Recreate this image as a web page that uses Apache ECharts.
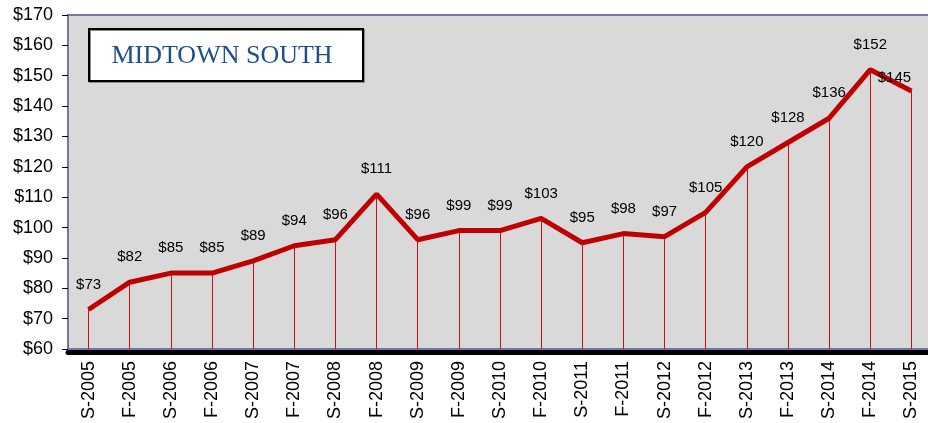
<!DOCTYPE html>
<html>
<head>
<meta charset="utf-8" />
<script src="https://cdn.jsdelivr.net/npm/echarts@6/dist/echarts.min.js"></script>
<style>
  html, body { margin: 0; padding: 0; background: #fff; }
  #chart { width: 928px; height: 423px; }
</style>
</head>
<body>
<div id="chart"></div>
<script>
// seasons: S = spring, F = fall
const categories = [
  "S-2005", "F-2005", "S-2006", "F-2006", "S-2007", "F-2007", "S-2008",
  "F-2008", "S-2009", "F-2009", "S-2010", "F-2010", "S-2011", "F-2011",
  "S-2012", "F-2012", "S-2013", "F-2013", "S-2014", "F-2014", "S-2015"
];
const rents = [73, 82, 85, 85, 89, 94, 96, 111, 96, 99, 99, 103, 95, 98, 97, 105, 120, 128, 136, 152, 145];
const yMin = 60;
const yMax = 170;
const yStep = 10;
const titleText = "MIDTOWN SOUTH";

const myChart = echarts.init(document.getElementById("chart"));

// thin drop lines from each point down to the axis
const dropLines = categories.map((c, i) => [
  { coord: [c, yMin] },
  { coord: [c, rents[i]] }
]);

const lineData = rents.map((v, i) => {
  if (i === rents.length - 1) {
    return { value: v, label: { offset: [-17, 12] } };
  }
  return v;
});

const option = {
  animation: false,
  grid: {
    left: 68,
    top: 15,
    width: 864,
    bottom: 74,
    outerBoundsMode: "none",
    containLabel: false,
    show: true,
    backgroundColor: "#d9d9d9",
    borderColor: "#7575a8",
    borderWidth: 2
  },
  xAxis: [
    {
      type: "category",
      data: categories,
      boundaryGap: true,
      axisLine: { lineStyle: { color: "#7575a8", width: 1 } },
      axisTick: { show: false },
      axisLabel: {
        rotate: 90,
        color: "#000",
        fontFamily: "Liberation Sans, Arial",
        fontSize: 18,
        margin: 12
      }
    },
    {
      type: "category",
      data: categories,
      position: "bottom",
      offset: 3,
      axisLine: { lineStyle: { color: "#000", width: 5 } },
      axisTick: { show: false },
      axisLabel: { show: false }
    }
  ],
  yAxis: {
    type: "value",
    min: yMin,
    max: yMax,
    interval: yStep,
    axisLine: { show: true, lineStyle: { color: "#7575a8", width: 2 } },
    axisTick: { show: true, length: 6, lineStyle: { color: "#000" } },
    splitLine: { show: false },
    axisLabel: {
      formatter: "${value}",
      color: "#000",
      fontFamily: "Liberation Sans, Arial",
      fontSize: 18,
      margin: 15
    }
  },
  series: [
    {
      type: "line",
      data: lineData,
      symbol: "circle",
      symbolSize: 1,
      itemStyle: { color: "#c00000" },
      lineStyle: { color: "#c00000", width: 5 },
      z: 3,
      label: {
        show: true,
        position: "top",
        distance: 17,
        formatter: "${c}",
        color: "#000",
        fontFamily: "Liberation Sans, Arial",
        fontSize: 15
      },
      markLine: {
        silent: true,
        symbol: "none",
        label: { show: false },
        lineStyle: { color: "#cc1010", width: 1, type: "solid" },
        z: 1,
        data: dropLines
      }
    }
  ],
  graphic: [
    {
      type: "group",
      left: 88,
      top: 28,
      children: [
        {
          type: "rect",
          shape: { x: 0, y: 0, width: 274, height: 52 },
          style: {
            fill: "#fff",
            stroke: "#000",
            lineWidth: 2,
            shadowColor: "#8a8a8a",
            shadowOffsetX: 1,
            shadowOffsetY: 1
          }
        },
        {
          type: "text",
          x: 133,
          y: 27,
          style: {
            text: titleText,
            fill: "#1f4e8c",
            fontFamily: "Liberation Serif, Times New Roman, serif",
            fontSize: 26,
            align: "center",
            verticalAlign: "middle"
          }
        }
      ]
    }
  ]
};

myChart.setOption(option);
</script>
</body>
</html>
